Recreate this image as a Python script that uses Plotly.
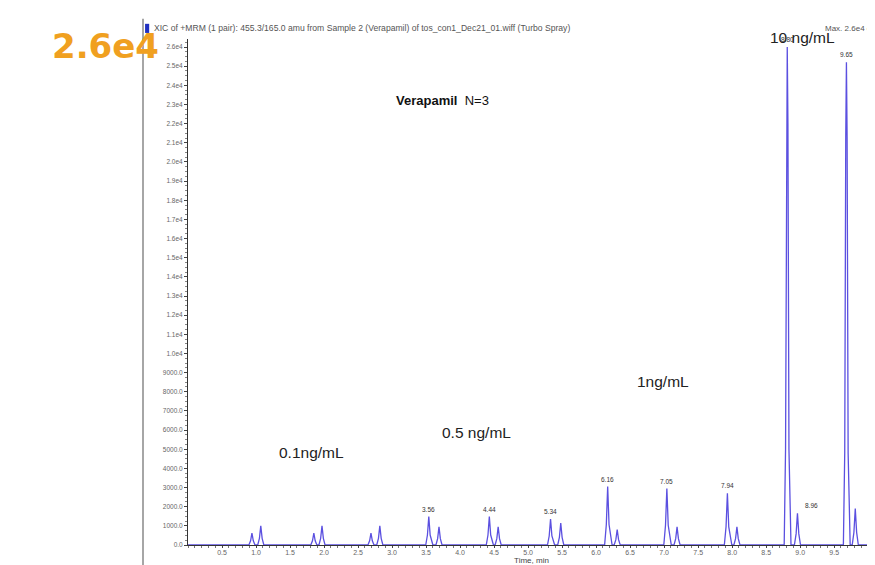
import plotly.graph_objects as go

# ---- chromatogram data ----
rt = [
    0.00,
    0.895, 0.92, 0.94, 0.96, 0.985,
    1.025, 1.05, 1.07, 1.09, 1.115,
    1.805, 1.83, 1.85, 1.87, 1.895,
    1.925, 1.95, 1.97, 1.99, 2.015,
    2.645, 2.67, 2.69, 2.71, 2.735,
    2.775, 2.80, 2.82, 2.84, 2.865,
    3.495, 3.52, 3.54, 3.56, 3.60,
    3.645, 3.67, 3.69, 3.71, 3.735,
    4.385, 4.41, 4.43, 4.45, 4.49,
    4.515, 4.54, 4.56, 4.58, 4.605,
    5.285, 5.31, 5.33, 5.35, 5.39,
    5.435, 5.46, 5.48, 5.50, 5.525,
    6.125, 6.15, 6.17, 6.19, 6.235,
    6.265, 6.29, 6.31, 6.33, 6.355,
    6.995, 7.02, 7.04, 7.06, 7.105,
    7.145, 7.17, 7.19, 7.21, 7.235,
    7.885, 7.91, 7.93, 7.95, 7.995,
    8.025, 8.05, 8.07, 8.09, 8.115,
    8.765, 8.785, 8.80, 8.81, 8.82, 8.835, 8.865,
    8.915, 8.94, 8.96, 8.98, 9.005,
    9.635, 9.655, 9.67, 9.68, 9.69, 9.705, 9.735,
    9.765, 9.79, 9.81, 9.83, 9.855,
    10.10,
]
intensity = [
    0,
    0, 220, 620, 220, 0,
    0, 350, 1000, 350, 0,
    0, 220, 620, 220, 0,
    0, 350, 1000, 350, 0,
    0, 220, 620, 220, 0,
    0, 350, 1000, 350, 0,
    0, 520, 1480, 520, 0,
    0, 330, 950, 330, 0,
    0, 520, 1480, 520, 0,
    0, 330, 950, 330, 0,
    0, 470, 1350, 470, 0,
    0, 400, 1150, 400, 0,
    0, 1070, 3050, 1070, 0,
    0, 280, 800, 280, 0,
    0, 1030, 2950, 1030, 0,
    0, 330, 950, 330, 0,
    0, 950, 2700, 950, 0,
    0, 330, 950, 330, 0,
    0, 5000, 22000, 26000, 22000, 5000, 0,
    0, 580, 1650, 580, 0,
    0, 4800, 21300, 25200, 21300, 4800, 0,
    0, 660, 1900, 660, 0,
    0,
]

# peak apex labels
peak_label_text = ["3.56", "4.44", "5.34", "6.16", "7.05", "7.94", "8.80", "8.96", "9.65"]
peak_label_x = [3.54, 4.43, 5.33, 6.17, 7.04, 7.93, 8.81, 8.96, 9.68]
peak_label_y = [1480, 1480, 1350, 3050, 2950, 2700, 26000, 1650, 25200]

# concentration group labels
group_text = ["0.1ng/mL", "0.5 ng/mL", "1ng/mL"]
group_x = [1.81, 4.24, 6.99]
group_y = [4856, 5900, 8512]

# axis ticks
x_tickvals = [0.5, 1.0, 1.5, 2.0, 2.5, 3.0, 3.5, 4.0, 4.5, 5.0, 5.5, 6.0, 6.5, 7.0, 7.5, 8.0, 8.5, 9.0, 9.5]
x_ticktext = ["0.5", "1.0", "1.5", "2.0", "2.5", "3.0", "3.5", "4.0", "4.5", "5.0", "5.5", "6.0", "6.5", "7.0", "7.5", "8.0", "8.5", "9.0", "9.5"]
y_tickvals = [0, 1000, 2000, 3000, 4000, 5000, 6000, 7000, 8000, 9000, 10000, 11000, 12000, 13000,
              14000, 15000, 16000, 17000, 18000, 19000, 20000, 21000, 22000, 23000, 24000, 25000, 26000]
y_ticktext = ["0.0", "1000.0", "2000.0", "3000.0", "4000.0", "5000.0", "6000.0", "7000.0", "8000.0", "9000.0",
              "1.0e4", "1.1e4", "1.2e4", "1.3e4", "1.4e4", "1.5e4", "1.6e4", "1.7e4", "1.8e4", "1.9e4",
              "2.0e4", "2.1e4", "2.2e4", "2.3e4", "2.4e4", "2.5e4", "2.6e4"]

FONT = "Liberation Sans, Arial, sans-serif"
LINE = "#5b50e0"

fig = go.Figure()
fig.add_trace(go.Scatter(x=rt, y=intensity, mode="lines",
                         line=dict(color=LINE, width=1.3), hoverinfo="skip", showlegend=False))

annotations = []
for t, x, y in zip(peak_label_text, peak_label_x, peak_label_y):
    xs = 14 if t == "8.96" else 0
    annotations.append(dict(x=x, y=y, xref="x", yref="y", text=t, showarrow=False,
                            xshift=xs, yshift=2, yanchor="bottom", xanchor="center",
                            font=dict(family=FONT, size=6.5, color="#333")))
for t, x, y in zip(group_text, group_x, group_y):
    annotations.append(dict(x=x, y=y, xref="x", yref="y", text=t, showarrow=False,
                            xanchor="center",
                            font=dict(family=FONT, size=15.5, color="#222")))
annotations += [
    dict(x=3.74, y=23185, xref="x", yref="y", text="<b>Verapamil</b>  N=3", showarrow=False,
         xanchor="center", font=dict(family=FONT, size=13, color="#111")),
    dict(x=0.895, y=1.003, xref="paper", yref="paper", text="10 ng/mL", showarrow=False,
         xanchor="center", yanchor="middle", font=dict(family=FONT, size=15.5, color="#222")),
    dict(x=-0.1208, y=0.986, xref="paper", yref="paper", text="<b>2.6e4</b>", showarrow=False,
         xanchor="center", yanchor="middle",
         font=dict(family="DejaVu Sans, sans-serif", size=34, color="#f0a020")),
    dict(x=-0.0524, y=1.021, xref="paper", yref="paper", xanchor="left", yanchor="middle",
         text="XIC of +MRM (1 pair): 455.3/165.0 amu from Sample 2 (Verapamil) of tos_con1_Dec21_01.wiff (Turbo Spray)",
         showarrow=False, font=dict(family=FONT, size=8.6, color="#555")),
    dict(x=0.925, y=1.021, xref="paper", yref="paper", xanchor="left", yanchor="middle",
         text="Max. 2.6e4 cps.", showarrow=False, font=dict(family=FONT, size=8, color="#555")),
]

shapes = [
    dict(type="line", xref="paper", yref="paper", x0=-0.0655, x1=-0.0655, y0=-0.05, y1=1.04,
         line=dict(color="#888", width=1.5)),
    dict(type="rect", xref="paper", yref="paper", x0=-0.0625, x1=-0.0565, y0=1.012, y1=1.030,
         fillcolor="#2030c0", line=dict(width=0)),
]

# page body has an 8px margin, so the figure is 8px smaller than the window
fig.update_layout(
    width=867, height=557,
    margin=dict(l=180, r=0, t=31, b=20),
    paper_bgcolor="white", plot_bgcolor="white",
    font=dict(family=FONT),
    annotations=annotations, shapes=shapes,
    xaxis=dict(range=[0, 10.1], showgrid=False, zeroline=False, showline=True, linecolor="#333",
               linewidth=1, ticks="outside", ticklen=2, tickcolor="#444",
               tickvals=x_tickvals, ticktext=x_ticktext, ticklabelstandoff=-1,
               tickfont=dict(size=7, color="#666"),
               minor=dict(ticks="outside", ticklen=2, dtick=0.1, tickcolor="#777"),
               title=dict(text="Time, min", font=dict(size=8, color="#444"), standoff=3),
               layer="below traces"),
    yaxis=dict(range=[0, 26420], showgrid=False, zeroline=False, showline=True, linecolor="#333",
               linewidth=1, ticks="outside", ticklen=3, tickcolor="#444",
               tickvals=y_tickvals, ticktext=y_ticktext,
               tickfont=dict(size=6.5, color="#666"),
               minor=dict(ticks="outside", ticklen=2, dtick=250, tickcolor="#888"),
               layer="below traces"),
)

fig.write_html("out.html")
